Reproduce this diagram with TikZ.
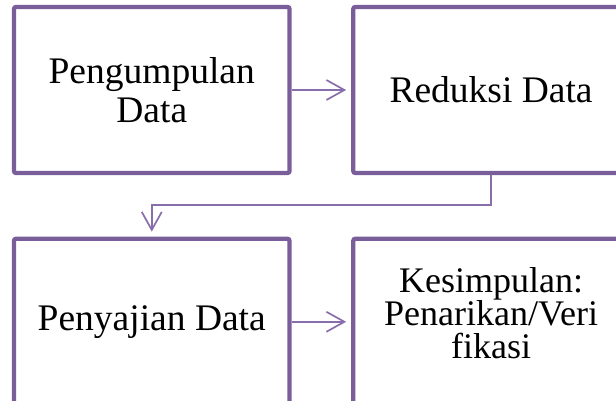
\documentclass[tikz,border=0pt]{standalone}
\usepackage{fontspec}
\setmainfont{Liberation Serif}
\usetikzlibrary{arrows.meta,positioning}
\definecolor{framepurple}{RGB}{122,94,154}
\definecolor{linkpurple}{RGB}{137,110,172}
\tikzstyle{stage} = [draw=framepurple,line width=4.3pt,rectangle,rounded corners=2pt,minimum width=275.5pt,minimum height=166pt,inner sep=0,align=center,font=\fontsize{37.5}{39}\selectfont]
\tikzstyle{link} = [-{Straight Barb[length=18pt,width=20pt]},line width=1.7pt,draw=linkpurple,shorten >=5pt]
\def \gapx {59.5pt}
\def \gapy {61.5pt}

\begin{document}
\begin{tikzpicture}[x=1pt,y=1pt]
      \useasboundingbox (0,0) rectangle (616,-401);
      \node[stage] (kumpul) at (151.75,-90) {Pengumpulan\\Data};
      \node[stage,right=\gapx of kumpul] (reduksi) {Reduksi Data};
      \node[stage,below=\gapy of kumpul] (sajian) {Penyajian Data};
      \node[stage,right=\gapx of sajian,text depth=18pt,font=\fontsize{36}{33}\selectfont] (simpul) {Kesimpulan:\\Penarikan/Veri\\fikasi};
      \draw[link] (kumpul.east) -- (reduksi.west);
      \draw[link] (reduksi.south) -- ++(0,-30) -| (sajian.north);
      \draw[link] (sajian.east) -- (simpul.west);
    \end{tikzpicture}
\end{document}
